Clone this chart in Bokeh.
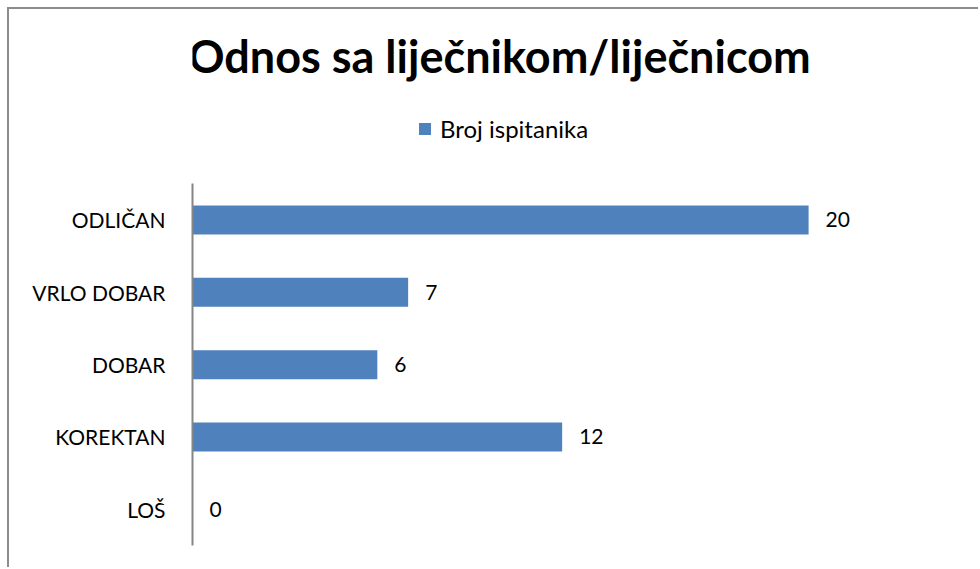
from bokeh.plotting import figure
from bokeh.models import Range1d, Legend, LegendItem, ColumnDataSource, Label, FixedTicker
from bokeh.core.properties import value
from bokeh.embed import file_html
from bokeh.resources import INLINE

categories = ["LOŠ", "KOREKTAN", "DOBAR", "VRLO DOBAR", "ODLIČAN"]
counts = [0, 12, 6, 7, 20]
series_name = "Broj ispitanika"
title_text = "Odnos sa liječnikom/liječnicom"

FONT = "Lato"
BAR = "#4f81bd"
GRAY = "#8c8c8c"

ypos = [i + 0.5 for i in range(len(categories))]
src = ColumnDataSource(dict(y=ypos, val=counts, lab=[str(v) for v in counts]))

p = figure(width=971, height=560, output_backend="svg", toolbar_location=None,
           x_range=Range1d(0, 25.58), y_range=Range1d(0, 7.41),
           min_border_left=183, min_border_right=0, min_border_bottom=24, min_border_top=0)

r = p.hbar(y="y", right="val", height=0.4, source=src, color=BAR, line_color=None)
p.text(x="val", y="y", text="lab", source=src, x_offset=17, text_baseline="middle",
       text_font=value(FONT), text_font_size="21px", text_color="#000000")

p.add_layout(Label(x=307, y=490, x_units="screen", y_units="screen", text=title_text,
                   text_align="center", text_baseline="alphabetic", text_font=FONT,
                   text_font_size="45px", text_font_style="bold", text_color="#000000"))

legend = Legend(items=[LegendItem(label=series_name, renderers=[r])], location=(225, 402),
                orientation="horizontal", label_text_font=FONT, label_text_font_size="24px",
                glyph_width=15, glyph_height=15, label_standoff=8, padding=0, margin=0,
                border_line_color=None, background_fill_alpha=0, label_text_color="#000000")
p.add_layout(legend)

p.xaxis.visible = False
p.xgrid.visible = False
p.ygrid.visible = False
yax = p.yaxis[0]
yax.ticker = FixedTicker(ticks=ypos)
yax.major_label_overrides = {t: c for t, c in zip(ypos, categories)}
yax.bounds = (0, len(categories))
yax.axis_line_color = "#868686"
yax.axis_line_width = 2
yax.major_tick_line_color = None
yax.major_tick_out = 0
yax.major_tick_in = 0
yax.minor_tick_line_color = None
yax.major_label_text_font = FONT
yax.major_label_text_font_size = "21px"
yax.major_label_text_color = "#000000"
yax.major_label_standoff = 27
p.outline_line_color = None
p.styles = {"margin-left": "7px", "margin-top": "7px",
            "border-left": "2px solid " + GRAY, "border-top": "2px solid " + GRAY}

open("out.html", "w").write(file_html(p, INLINE))
